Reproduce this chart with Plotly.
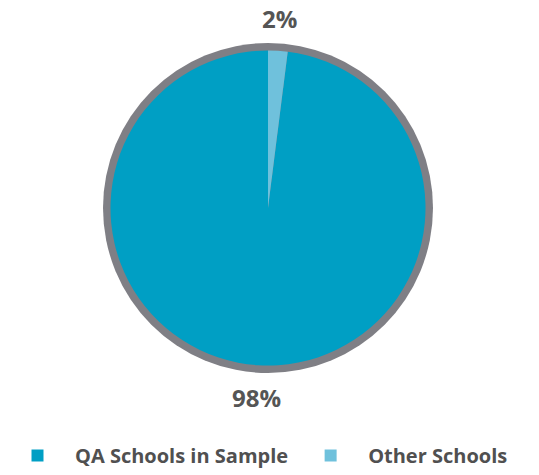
import math
import plotly.graph_objects as go

# Share of schools
categories = ["QA Schools in Sample", "Other Schools"]
shares = [98, 2]
colors = ["#009fc4", "#6fc1dc"]

W, H = 539, 475
cx, cy = 268, 208          # pie centre in px (from top-left)
r_in, r_out = 157.5, 165   # coloured disc / grey rim radii
r_lab = 190                # radius at which the percentage labels sit

total = sum(shares)
# start the first slice so the small slice sits just clockwise of 12 o'clock
start = 360 * shares[-1] / total


def domain(r):
    return dict(
        x=[(cx - r) / W, (cx + r) / W],
        y=[(H - cy - r) / H, (H - cy + r) / H],
    )


fig = go.Figure()

# grey rim drawn as a single-slice pie behind the data
fig.add_trace(go.Pie(
    values=[1], labels=["rim"], domain=domain(r_out),
    marker=dict(colors=["#7f7f85"], line=dict(width=0)),
    textinfo="none", hoverinfo="skip", showlegend=False, sort=False,
))

# the data slices
fig.add_trace(go.Pie(
    labels=categories, values=shares, domain=domain(r_in),
    sort=False, direction="clockwise", rotation=start,
    marker=dict(colors=colors, line=dict(width=0)),
    textinfo="none", showlegend=True,
))

# percentage labels at each slice's mid-angle
acc = start
for cat, v in zip(categories, shares):
    sweep = 360 * v / total
    mid = math.radians(acc + sweep / 2)
    acc += sweep
    px = cx + r_lab * math.sin(mid)
    py = cy - r_lab * math.cos(mid)
    fig.add_annotation(
        x=px / W, y=1 - py / H, xref="paper", yref="paper",
        text=f"{round(100 * v / total)}%", showarrow=False,
        xanchor="center", yanchor="middle",
        font=dict(family="Open Sans", size=24, color="#555555", weight="bold"),
    )

fig.update_layout(
    width=W, height=H,
    margin=dict(l=0, r=0, t=0, b=0),
    paper_bgcolor="white", plot_bgcolor="white",
    showlegend=True,
    legend=dict(
        orientation="h", x=0.0, xanchor="left", y=0.0, yanchor="bottom",
        font=dict(family="Open Sans", size=20, color="#505050", weight="bold"),
        itemwidth=65,
        traceorder="normal", itemclick=False,
    ),
)

fig.write_html("out.html")
